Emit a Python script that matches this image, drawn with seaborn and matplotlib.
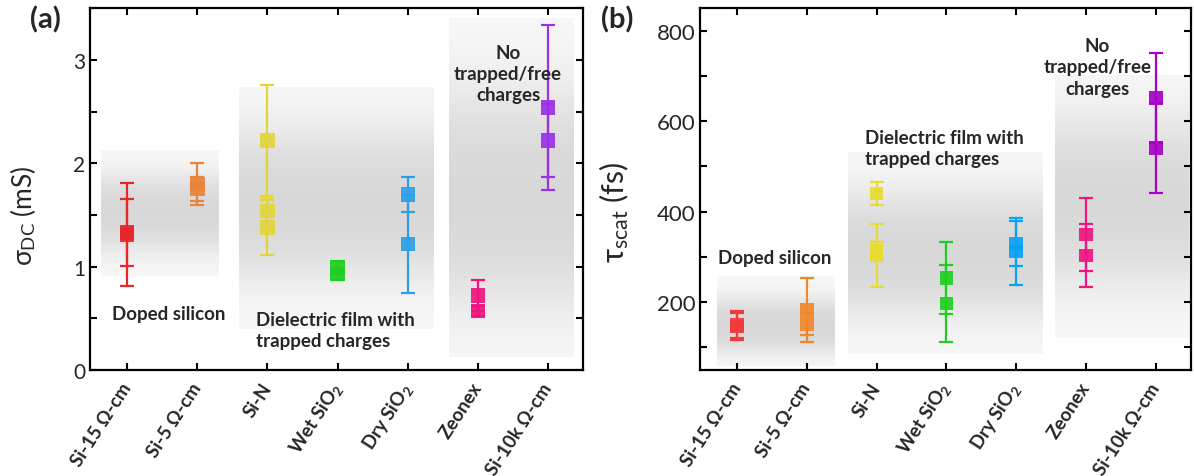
import numpy as np
import pandas as pd
import matplotlib
matplotlib.use("Agg")
import matplotlib.pyplot as plt
import seaborn as sns
from matplotlib.ticker import MultipleLocator

# ---------------- data ----------------
categories = ["Si-15 Ω-cm", "Si-5 Ω-cm", "Si-N", "Wet SiO$_\\mathbf{2}$",
              "Dry SiO$_\\mathbf{2}$", "Zeonex", "Si-10k Ω-cm"]
point_cat = [0, 0, 1, 1, 2, 2, 2, 3, 3, 4, 4, 5, 5, 6, 6]

sigma_val = [1.31, 1.33, 1.80, 1.75, 2.22, 1.54, 1.38, 0.99, 0.93, 1.70, 1.22, 0.72, 0.57, 2.54, 2.22]
sigma_err = [0.50, 0.32, 0.20, 0.12, 0.54, 0.10, 0.27, 0.06, 0.06, 0.17, 0.47, 0.15, 0.05, 0.80, 0.35]

tau_val = [146, 150, 183, 152, 440, 314, 303, 254, 197, 330, 312, 350, 303, 651, 541]
tau_err = [30, 30, 70, 25, 26, 20, 70, 80, 85, 50, 75, 80, 70, 100, 100]

colors_a = ["#e8262b", "#e8843a", "#e2d43a", "#1fcf1f", "#2d9fe6", "#f0157e", "#9b30e8"]
colors_b = ["#f23a3a", "#f0882a", "#e8dc30", "#1fcf1f", "#0aa2f5", "#f0157e", "#a800c8"]

# ---------------- style ----------------
sns.set_theme(style="ticks")
plt.rcParams["font.family"] = ["Lato", "DejaVu Sans"]
plt.rcParams["mathtext.fontset"] = "custom"
plt.rcParams["mathtext.rm"] = "Lato"
plt.rcParams["mathtext.bf"] = "Lato:bold"
plt.rcParams["mathtext.it"] = "Lato:italic"

fig = plt.figure(figsize=(11.94, 4.77), dpi=100)
axA = fig.add_axes([0.0754, 0.222, 0.413, 0.759])
axB = fig.add_axes([0.5863, 0.222, 0.411, 0.759])


def band(ax, x0, x1, y0, y1, center, width, peak=0.15, edge=0.03):
    t = np.linspace(0, 1, 400)
    a = np.exp(-np.abs((t - center) / width) ** 3)
    g = 1 - (edge + (peak - edge) * a)
    img = np.dstack([g, g, g]).reshape(400, 1, 3)
    ax.imshow(img, extent=[x0, x1, y0, y1], origin="lower", aspect="auto",
              zorder=0, interpolation="bilinear")


def panel(ax, vals, errs, cols, ms):
    pos = [c + 1 for c in point_cat]
    df = pd.DataFrame({"pos": pos, "val": vals, "err": errs,
                       "cat": [categories[c] for c in point_cat]})
    for p, v, e, c in zip(pos, vals, errs, point_cat):
        ax.errorbar(p, v, yerr=e, fmt="none", ecolor=cols[c], elinewidth=1.6,
                    capsize=5, capthick=1.6, zorder=3)
    sns.scatterplot(data=df, x="pos", y="val", hue="cat",
                    palette=dict(zip(categories, cols)), marker="s", s=ms,
                    linewidth=0, alpha=0.92, legend=False, ax=ax, zorder=4)
    ax.set_xticks(range(1, len(categories) + 1))
    ax.set_xticklabels(categories, rotation=57, ha="right", va="center",
                       rotation_mode="anchor", fontweight="bold", fontsize=13.5)
    ax.set_xlabel("")
    ax.tick_params(axis="both", which="both", direction="in", top=True, right=True,
                   width=1.5, length=5, color="black")
    ax.tick_params(axis="x", pad=10)
    for s in ax.spines.values():
        s.set_linewidth(1.6)
        s.set_color("black")


# ---------- panel (a) ----------
band(axA, 0.63, 2.31, 0.91, 2.12, 0.50, 0.32)
band(axA, 2.59, 5.36, 0.40, 2.73, 0.52, 0.32)
band(axA, 5.59, 7.37, 0.13, 3.40, 0.47, 0.33)
panel(axA, sigma_val, sigma_err, colors_a, 110)
axA.set_xlim(0.47, 7.5)
axA.set_ylim(0, 3.5)
axA.yaxis.set_major_locator(MultipleLocator(1))
axA.yaxis.set_minor_locator(MultipleLocator(0.5))
axA.tick_params(axis="y", labelsize=15)
axA.set_ylabel("σ$_\\mathregular{DC}$ (mS)", fontsize=19)
axA.yaxis.set_label_coords(-0.105, 0.43)

tk = dict(fontweight="bold", fontsize=13.5)
axA.text(1.59, 0.55, "Doped silicon", ha="center", va="center", **tk)
axA.text(2.83, 0.39, "Dielectric film with\ntrapped charges", ha="left",
         va="center", linespacing=1.3, **tk)
axA.text(6.43, 2.87, "No\ntrapped/free\ncharges", ha="center", va="center",
         linespacing=1.3, **tk)

# ---------- panel (b) ----------
band(axB, 0.71, 2.40, 60, 257, 0.45, 0.32)
band(axB, 2.59, 5.37, 85, 530, 0.50, 0.32)
band(axB, 5.56, 7.47, 120, 700, 0.52, 0.33)
panel(axB, tau_val, tau_err, colors_b, 95)
axB.set_xlim(0.47, 7.5)
axB.set_ylim(50, 850)
axB.yaxis.set_major_locator(MultipleLocator(200))
axB.yaxis.set_minor_locator(MultipleLocator(100))
axB.tick_params(axis="y", labelsize=16)
axB.set_ylabel("τ$_\\mathregular{scat}$ (fs)", fontsize=22)
axB.yaxis.set_label_coords(-0.14, 0.44)

axB.text(1.54, 299, "Doped silicon", ha="center", va="center", **tk)
axB.text(2.84, 540, "Dielectric film with\ntrapped charges", ha="left",
         va="center", linespacing=1.3, **tk)
axB.text(6.16, 720, "No\ntrapped/free\ncharges", ha="center", va="center",
         linespacing=1.3, **tk)

fig.text(0.038, 0.958, "(a)", fontsize=21, fontweight="bold", ha="center", va="center")
fig.text(0.517, 0.958, "(b)", fontsize=21, fontweight="bold", ha="center", va="center")

fig.savefig("out.png", dpi=100)
